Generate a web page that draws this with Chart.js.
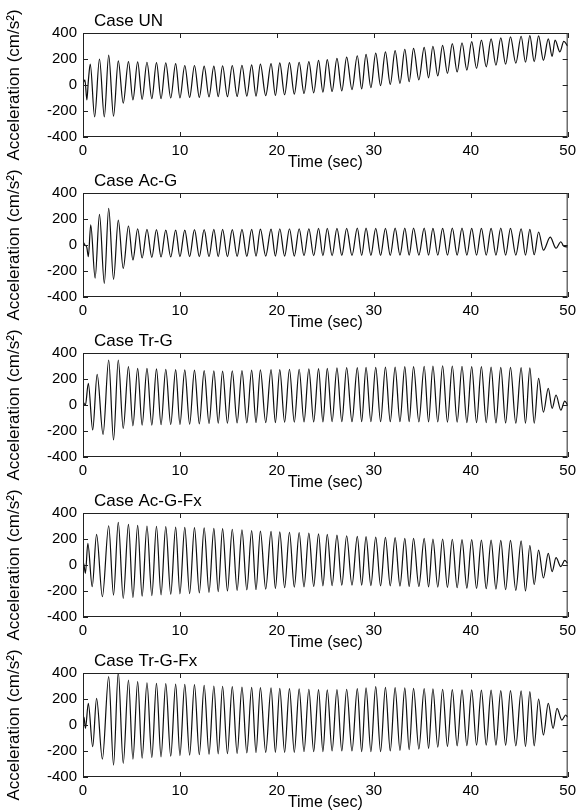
<!DOCTYPE html>
<html><head><meta charset="utf-8">
<script src="https://cdn.jsdelivr.net/npm/chart.js@4.4.0/dist/chart.umd.min.js"></script>
<style>
html,body{margin:0;padding:0;background:#fff;overflow:hidden;width:581px;height:810px;position:relative;}
canvas{position:absolute;left:0;}
</style></head><body>
<canvas id="c0" width="581" height="175" style="top:0px"></canvas>
<canvas id="c1" width="581" height="175" style="top:160px"></canvas>
<canvas id="c2" width="581" height="175" style="top:320px"></canvas>
<canvas id="c3" width="581" height="175" style="top:480px"></canvas>
<canvas id="c4" width="581" height="175" style="top:640px"></canvas>
<script>
// ---- axis ticks & labels ----
const xTicks = [0, 10, 20, 30, 40, 50];
const yTicks = [-400, -200, 0, 200, 400];
const caseNames = ['Case UN', 'Case Ac-G', 'Case Tr-G', 'Case Ac-G-Fx', 'Case Tr-G-Fx'];
const xLabel = 'Time (sec)';
const yLabel = 'Acceleration (cm/s\u00B2)';

// ---- times (s) of the peaks and troughs of the steady cycles ----
const peakT = [2.65,3.64,4.69,5.64,6.6,7.58,8.54,9.56,10.5,11.5,12.5,13.5,14.4,15.4,16.4,17.4,18.3,19.4,20.3,21.3,22.3,23.3,24.3,25.2,26.2,27.2,28.3,29.2,30.2,31.2,32.2,33.2,34.1,35.2,36.1,37.1,38.1,39.1,40.1,41.1,42.1,43.1,44.1,45.2,46.1,47.0];
const troughT = [3.15,4.15,5.15,6.1,7.1,8.05,9.05,10.0,11.0,12.0,13.0,13.95,14.9,15.9,16.9,17.85,18.85,19.85,20.8,21.8,22.8,23.8,24.75,25.7,26.7,27.75,28.75,29.7,30.7,31.7,32.7,33.65,34.65,35.65,36.6,37.6,38.6,39.6,40.6,41.6,42.6,43.6,44.65,45.65,46.55,47.5];

// ---- Case UN ----
const onsetT_UN = [0,0.2,0.4,0.55,0.75,1.2,1.7,2.2];
const onsetA_UN = [10,40,-115,30,160,-245,200,-245];
const peaks_UN = [230,185,180,178,175,172,170,165,150,150, 145,145,148,150,152,155,160,165,170,172, 175,180,190,195,205,215,225,235,245,255, 265,275,282,290,298,305,318,325,333,345, 355,362,370,375,380,378];
const troughs_UN = [-240,-140,-115,-110,-105,-105,-100,-100,-95,-95, -92,-90,-90,-88,-85,-85,-82,-80,-75,-70, -65,-60,-55,-50,-45,-35,-30,-20,-5,5, 13,25,40,55,70,90,100,115,128,140, 152,160,168,175,180,190];
const tailT_UN = [48.0,48.4,48.7,49.2,49.6,50];
const tailA_UN = [355,220,345,255,335,300];

// ---- Case Ac-G ----
const onsetT_AcG = [0,0.2,0.4,0.55,0.8,1.25,1.7,2.2];
const onsetA_AcG = [25,0,-20,-90,155,-255,235,-295];
const peaks_AcG = [282,192,146,125,120,118,115,115,115,118, 118,120,120,118,120,120,122,122,125,125, 125,125,128,128,128,128,130,130,128,128, 130,130,130,130,128,128,130,130,128,128, 128,130,128,125,120,100];
const troughs_AcG = [-264,-180,-115,-100,-95,-92,-92,-90,-90,-90, -90,-90,-90,-88,-88,-85,-85,-85,-85,-85, -82,-82,-82,-82,-80,-80,-80,-80,-80,-80, -78,-78,-78,-78,-78,-78,-78,-78,-78,-78, -78,-78,-78,-78,-75,-40];
const tailT_AcG = [48.2,48.8,49.3,49.6,50];
const tailA_AcG = [60,-25,25,-10,-15];

// ---- Case Tr-G ----
const onsetT_TrG = [0,0.25,0.55,1.0,1.46,2.07];
const onsetA_TrG = [25,0,167,-192,236,-226];
const peaks_TrG = [346,346,295,282,282,278,275,272,270,268, 265,262,260,262,265,268,270,272,272,275, 275,278,280,282,285,288,288,290,290,292, 292,295,295,298,300,302,300,298,295,295, 292,290,290,288,285,205];
const troughs_TrG = [-269,-180,-160,-155,-155,-152,-150,-150,-148,-145, -142,-140,-140,-138,-138,-135,-135,-135,-132,-132, -130,-130,-130,-128,-128,-128,-128,-128,-128,-128, -128,-128,-130,-130,-130,-132,-132,-135,-135,-135, -138,-138,-140,-140,-140,-55];
const tailT_TrG = [48.0,48.4,48.8,49.3,49.7,50];
const tailA_TrG = [128,-26,77,-40,30,0];

// ---- Case Ac-G-Fx ----
const onsetT_AcGFx = [0,0.1,0.25,0.5,0.95,1.4,2.0];
const onsetA_AcGFx = [25,0,-64,167,-167,236,-244];
const peaks_AcGFx = [302,328,313,305,300,298,295,292,290,288, 285,282,280,275,270,265,260,258,255,252, 250,245,240,236,230,225,220,218,215,212, 210,205,205,205,200,200,198,195,195,192, 192,190,190,185,150,115];
const troughs_AcGFx = [-231,-256,-250,-240,-235,-230,-225,-222,-220,-215, -210,-205,-200,-195,-192,-190,-185,-180,-175,-170, -168,-165,-160,-158,-155,-155,-155,-158,-160,-160, -162,-165,-165,-168,-170,-172,-175,-178,-180,-182, -185,-190,-195,-200,-150,-100];
const tailT_AcGFx = [48.0,48.4,48.8,49.3,49.7,50];
const tailA_AcGFx = [90,-51,56,-13,35,13];

// ---- Case Tr-G-Fx ----
const onsetT_TrGFx = [0,0.1,0.25,0.55,1.0,1.4,2.0];
const onsetA_TrGFx = [25,60,-26,167,-167,205,-262];
const peaks_TrGFx = [372,405,346,333,325,320,318,315,312,310, 305,300,298,295,292,290,288,285,282,280, 278,275,272,270,272,275,280,285,295,290, 288,285,282,280,278,275,272,270,270,268, 268,265,265,262,256,200];
const troughs_TrGFx = [-308,-295,-262,-255,-250,-245,-240,-235,-231,-228, -225,-222,-220,-218,-215,-212,-210,-210,-210,-210, -205,-205,-205,-200,-200,-200,-205,-205,-205,-200, -195,-190,-185,-180,-170,-165,-160,-158,-155,-155, -155,-155,-160,-165,-160,-77];
const tailT_TrGFx = [48.0,48.5,48.9,49.4,49.8,50];
const tailA_TrGFx = [167,-26,128,38,77,60];

function buildSeries(onT, onA, pk, tr, tlT, tlA) {
  const pts = [];
  onT.forEach((t, i) => pts.push({x: t, y: onA[i]}));
  peakT.forEach((t, i) => { pts.push({x: t, y: pk[i]}); pts.push({x: troughT[i], y: tr[i]}); });
  tlT.forEach((t, i) => pts.push({x: t, y: tlA[i]}));
  return pts;
}

const series = [
  buildSeries(onsetT_UN, onsetA_UN, peaks_UN, troughs_UN, tailT_UN, tailA_UN),
  buildSeries(onsetT_AcG, onsetA_AcG, peaks_AcG, troughs_AcG, tailT_AcG, tailA_AcG),
  buildSeries(onsetT_TrG, onsetA_TrG, peaks_TrG, troughs_TrG, tailT_TrG, tailA_TrG),
  buildSeries(onsetT_AcGFx, onsetA_AcGFx, peaks_AcGFx, troughs_AcGFx, tailT_AcGFx, tailA_AcGFx),
  buildSeries(onsetT_TrGFx, onsetA_TrGFx, peaks_TrGFx, troughs_TrGFx, tailT_TrGFx, tailA_TrGFx)
];

const FONT = '"Liberation Sans", Arial, Helvetica, sans-serif';
Chart.defaults.font.family = FONT;
Chart.defaults.color = '#000';

const framePlugin = {
  id: 'frame',
  afterDatasetsDraw(chart, args, opts) {
    const {ctx, chartArea: a, scales: {x, y}} = chart;
    ctx.save();
    ctx.strokeStyle = '#222';
    ctx.lineWidth = 1;
    ctx.strokeRect(a.left + 0.5, a.top + 0.5, a.right - a.left - 1, a.bottom - a.top - 1);
    const L = 5;
    ctx.beginPath();
    xTicks.forEach(v => {
      const px = Math.round(x.getPixelForValue(v)) + 0.5;
      ctx.moveTo(px, a.bottom); ctx.lineTo(px, a.bottom - L);
      ctx.moveTo(px, a.top); ctx.lineTo(px, a.top + L);
    });
    yTicks.forEach(v => {
      const py = Math.round(y.getPixelForValue(v)) + 0.5;
      ctx.moveTo(a.left, py); ctx.lineTo(a.left + L, py);
      ctx.moveTo(a.right, py); ctx.lineTo(a.right - L, py);
    });
    ctx.stroke();
    ctx.fillStyle = '#000';
    ctx.font = '17px ' + FONT;
    ctx.textBaseline = 'middle';
    ctx.textAlign = 'left';
    ctx.fillText(opts.text, a.left + 11, a.top - 12);
    ctx.restore();
  }
};

series.forEach((pts, i) => {
  new Chart(document.getElementById('c' + i), {
    type: 'line',
    data: { datasets: [{
      data: pts, borderColor: '#0d0d0d', borderWidth: 1.2, pointRadius: 0, fill: false,
      cubicInterpolationMode: 'monotone'
    }]},
    options: {
      responsive: false, animation: false, events: [],
      layout: { padding: { top: 33, right: 9, left: 0, bottom: 0 } },
      plugins: { legend: { display: false }, tooltip: { enabled: false }, frame: { text: caseNames[i] } },
      scales: {
        x: {
          type: 'linear', min: 0, max: 50,
          grid: { display: false, drawTicks: false }, border: { display: false },
          ticks: { stepSize: 10, maxRotation: 0, autoSkip: false, padding: 5, font: { size: 15 }, color: '#000' },
          title: { display: true, text: xLabel, font: { size: 16 }, color: '#000', padding: { top: 0, bottom: 3 } },
          afterFit: s => { s.height = 38; }
        },
        y: {
          min: -400, max: 400,
          grid: { display: false, drawTicks: false }, border: { display: false },
          ticks: { stepSize: 200, padding: 6, font: { size: 15 }, color: '#000' },
          title: { display: true, text: yLabel, font: { size: 17 }, color: '#000', padding: { top: 4, bottom: 0 } },
          afterFit: s => { s.width = 83; }
        }
      }
    },
    plugins: [framePlugin]
  });
});
</script>
</body></html>
